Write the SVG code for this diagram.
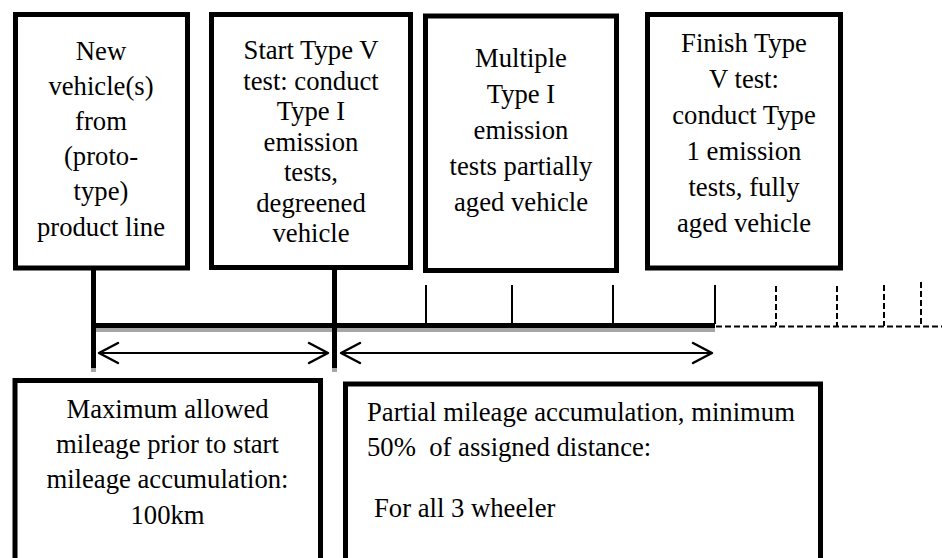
<svg xmlns="http://www.w3.org/2000/svg" width="942" height="558" viewBox="0 0 942 558">
<style>
.box{fill:#fff;stroke:#000;stroke-width:5}
text{font-family:'Liberation Serif','DejaVu Serif',serif;font-size:26.67px;fill:#000}
.c{text-anchor:middle}
.thin{stroke:#000;stroke-width:2;fill:none}
.dash{stroke:#000;stroke-width:2;stroke-dasharray:6 3;fill:none}
.arr{stroke:#000;stroke-width:1.8;fill:none}
.head{stroke:#000;stroke-width:2.5;fill:none;stroke-linecap:round;stroke-linejoin:round}
</style>
<rect width="942" height="558" fill="#fff"/>
<g id="n1">
<rect class="box" x="15.5" y="14.5" width="172" height="253.5"/>
<text class="c" x="101" y="60">New</text>
<text class="c" x="101" y="95">vehicle(s)</text>
<text class="c" x="101" y="130">from</text>
<text class="c" x="101" y="165">(proto-</text>
<text class="c" x="101" y="200">type)</text>
<text class="c" x="101" y="236">product line</text>
</g>
<g id="n2">
<rect class="box" x="211.5" y="14.5" width="199" height="253"/>
<text class="c" x="311" y="59">Start Type V</text>
<text class="c" x="311" y="89.5">test: conduct</text>
<text class="c" x="311" y="120">Type I</text>
<text class="c" x="311" y="150.5">emission</text>
<text class="c" x="311" y="181">tests,</text>
<text class="c" x="311" y="211.5">degreened</text>
<text class="c" x="311" y="242">vehicle</text>
</g>
<g id="n3">
<rect class="box" x="425.5" y="16" width="191" height="254.5"/>
<text class="c" x="521" y="67">Multiple</text>
<text class="c" x="521" y="103">Type I</text>
<text class="c" x="521" y="139">emission</text>
<text class="c" x="521" y="175">tests partially</text>
<text class="c" x="521" y="211">aged vehicle</text>
</g>
<g id="n4">
<rect class="box" x="647.5" y="14.5" width="193" height="253.5"/>
<text class="c" x="744" y="52">Finish Type</text>
<text class="c" x="744" y="88">V test:</text>
<text class="c" x="744" y="124">conduct Type</text>
<text class="c" x="744" y="160">1 emission</text>
<text class="c" x="744" y="196">tests, fully</text>
<text class="c" x="744" y="232">aged vehicle</text>
</g>
<g id="n5">
<path class="box" d="M15,562 V380.5 H320.5 V562"/>
<text class="c" x="167.5" y="418">Maximum allowed</text>
<text class="c" x="167.5" y="453">mileage prior to start</text>
<text class="c" x="167.5" y="488">mileage accumulation:</text>
<text class="c" x="167.5" y="524">100km</text>
</g>
<g id="n6">
<path class="box" d="M345.5,562 V384 H820.5 V562"/>
<text x="367" y="421">Partial mileage accumulation, minimum</text>
<text x="367" y="456" xml:space="preserve">50%  of assigned distance:</text>
<text x="374" y="517">For all 3 wheeler</text>
</g>
<g id="connectors">
<rect x="93" y="326" width="622" height="6" fill="#a6a6a6"/>
<rect x="91" y="365" width="5" height="7" fill="#a6a6a6"/>
<rect x="332" y="365" width="5" height="7" fill="#a6a6a6"/>
<line x1="93.5" y1="268" x2="93.5" y2="368" stroke="#000" stroke-width="5"/>
<line x1="334.5" y1="268" x2="334.5" y2="368" stroke="#000" stroke-width="5"/>
<line x1="93" y1="325.5" x2="715" y2="325.5" stroke="#000" stroke-width="5"/>
<line class="thin" x1="426" y1="285" x2="426" y2="324"/>
<line class="thin" x1="512" y1="285" x2="512" y2="324"/>
<line class="thin" x1="613" y1="285" x2="613" y2="324"/>
<line class="thin" x1="715" y1="285" x2="715" y2="324"/>
<line class="dash" x1="716" y1="326.5" x2="942" y2="326.5"/>
<line class="dash" x1="776" y1="286" x2="776" y2="326"/>
<line class="dash" x1="837" y1="286" x2="837" y2="326"/>
<line class="dash" x1="884" y1="285" x2="884" y2="326"/>
<line class="dash" x1="921" y1="282" x2="921" y2="326"/>
<line class="arr" x1="99" y1="353" x2="328" y2="353"/>
<polyline class="head" points="118,343 99,353 118,363"/>
<polyline class="head" points="309,343 328,353 309,363"/>
<line class="arr" x1="341" y1="353" x2="712" y2="353"/>
<polyline class="head" points="360,343 341,353 360,363"/>
<polyline class="head" points="693,343 712,353 693,363"/>
</g>
</svg>
